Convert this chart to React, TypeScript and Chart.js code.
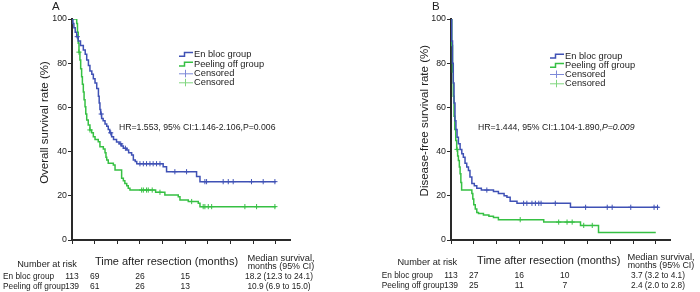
import React, { useEffect, useRef } from "react";
import { Chart, registerables } from "chart.js";

Chart.register(...registerables);

const FONT = '"Liberation Sans", Arial, Helvetica, sans-serif';
const BLUE = "#3f51b5";
const GREEN = "#36c043";
const BLUE_LIGHT = "#7d89d8";
const GREEN_LIGHT = "#80d67f";
const AXIS = "#2a2a2a";
const TEXT = "#222";

// ---------- data ----------
const xTickValues = [0, 12, 24, 36, 48, 60, 72, 84, 96, 108];
const yTickValues = [0, 20, 40, 60, 80, 100];
const riskTimes = [0, 12, 36, 60];
const groupNames = ["En bloc group", "Peeling off group"];

// Overall survival (panel A): [month, %]
const osEnBloc = [[0,100],[0.5,98],[1,96],[1.7,94],[2.5,92],[3.3,90],[4.5,88],[6,86],[7,84],[7.8,81.5],[8.7,79],[9.5,76.5],[10.5,75],[11.3,73],[12.2,71],[13.1,68.5],[14,65],[14.4,62],[14.8,59],[15.2,57],[15.7,55],[16.5,54],[17.5,52.5],[18.4,51.5],[19.2,50],[20,48.5],[21,46.7],[22,45.5],[23.6,44.3],[25,43.5],[26.3,42.5],[27.2,41.5],[29,40.7],[30,39.5],[31.6,38.5],[32.5,36.2],[33.5,35.5],[34.3,34.5],[48.3,33.2],[50.1,30.9],[66,28.7],[67.8,26.4],[108,26.4]];
const osPeeling = [[0,100],[2.5,98],[2.9,94],[3.3,89],[3.7,85],[4.2,81.4],[4.6,77.5],[5.1,73.9],[5.5,70.5],[6,67],[6.4,63.5],[6.9,60.3],[7.3,57],[7.8,54.3],[8.6,52],[9.5,49.8],[10.4,48.5],[11.3,46.7],[12.2,45.5],[13.9,44.5],[14.8,42.2],[16.6,41.2],[17.5,39.5],[18,37.5],[18.4,36.2],[19.2,34.7],[21.9,33.9],[22.8,31.7],[26.3,27.9],[27.2,26.8],[28,25.6],[29,24.5],[29.8,23.4],[30.7,22.6],[44.3,21.6],[49.2,20.4],[56.3,19.6],[57.2,18.1],[61.6,17.4],[66.9,16.6],[67.8,15.1],[108,15.1]];
const osEnBlocCensored = [2.8, 15.5, 20.5, 25.8, 28.3, 36, 37.8, 39.5, 41.3, 43, 44.8, 46.6, 54.5, 60.7, 70.4, 71.3, 80.1, 82.8, 85.4, 95.1, 101.3, 107.5];
const osPeelingCensored = [3.7, 9.5, 36.9, 37.8, 39.5, 40.4, 42.5, 46.6, 63.4, 69.5, 70.4, 72.2, 74, 91.6, 97.8, 107.5];
const osRiskEnBloc = [113, 69, 26, 15];
const osRiskPeeling = [139, 61, 26, 13];
const osMedians = ["18.2 (12.3 to 24.1)", "10.9 (6.9 to 15.0)"];

// Disease-free survival (panel B): [month, %]
const dfsEnBloc = [[0,100],[0.4,90],[0.8,80],[1.2,71],[1.6,62],[2.1,54],[2.6,50],[3.2,46.5],[3.9,43.5],[4.8,41],[5.7,39],[6.5,37.5],[7.4,34.7],[8.3,33],[9.2,31.5],[10,28.5],[11,25.6],[12.3,24.5],[13.6,23.4],[16,22.6],[22.4,21.9],[25,21],[28,20],[29.5,19.3],[31.2,17.5],[34.8,16.6],[63,14.8],[109.5,14.8]];
const dfsPeeling = [[0,100],[0.4,88],[0.8,76],[1.2,65],[1.6,56],[2,50],[2.5,45],[3,41],[3.5,38],[3.9,36],[4.4,33],[4.8,30],[5.2,26],[5.6,22.6],[11,21],[11.5,18.5],[12,16],[12.8,14],[13.6,12.5],[14.5,12],[17.1,11.3],[20,10.7],[22.4,10.2],[25,9.2],[48.9,8.1],[68.3,6.6],[77.8,3.4],[108,3.4]];
const dfsEnBlocCensored = [18.9, 38.3, 40, 42.7, 44.5, 46.3, 47.5, 55, 71, 82.4, 85, 94.8, 107.1, 108.9];
const dfsPeelingCensored = [3.2, 36.5, 56.8, 61.2, 63.9, 70, 74.5];
const dfsRiskEnBloc = [113, 27, 16, 10];
const dfsRiskPeeling = [139, 25, 11, 7];
const dfsMedians = ["3.7 (3.2 to 4.1)", "2.4 (2.0 to 2.8)"];

// ---------- helpers ----------
function survivalAt(curve: number[][], t: number): number {
  let v = curve[0][1];
  for (const [x, y] of curve) {
    if (x <= t) v = y;
    else break;
  }
  return v;
}

function drawText(ctx: CanvasRenderingContext2D, s: string, x: number, y: number, size: number, align: CanvasTextAlign = "left", opts: any = {}) {
  ctx.save();
  ctx.font = `${opts.italic ? "italic " : ""}${size}px ${FONT}`;
  ctx.fillStyle = opts.color || TEXT;
  ctx.textAlign = align;
  ctx.textBaseline = "middle";
  if (opts.rotate) {
    ctx.translate(x, y);
    ctx.rotate(-Math.PI / 2);
    ctx.fillText(s, 0, 0);
  } else {
    ctx.fillText(s, x, y);
  }
  ctx.restore();
}

const panels = [
  {
    offset: 0,
    letter: "A",
    letterX: 52,
    yTitle: "Overall survival rate (%)",
    yTitleX: 45,
    yTitleY: 122.5,
    plotLeft: 72,
    plotRight: 290,
    xMax: 115.5,
    curves: [osEnBloc, osPeeling],
    censored: [osEnBlocCensored, osPeelingCensored],
    risk: [osRiskEnBloc, osRiskPeeling],
    medians: osMedians,
    legendX: 179,
    legendYs: [54.3, 64, 73.3, 82.3],
    hrX: 119,
    hrY: 128,
    hrText: "HR=1.553, 95% CI:1.146-2.106,P=0.006",
    hrItalic: "",
    xTitleX: 166.5,
    xTitleY: 261.5,
    riskHeadX: 47,
    riskHeadY: 264,
    rowLabelX: 3,
    rowYs: [276.7, 286.7],
    medianHeadX: 281,
    medianHeadYs: [258, 267],
    medianX: 279,
  },
  {
    offset: 350,
    letter: "B",
    letterX: 82,
    yTitle: "Disease-free survival rate (%)",
    yTitleX: 75,
    yTitleY: 120.7,
    plotLeft: 101,
    plotRight: 320,
    xMax: 115.5,
    curves: [dfsEnBloc, dfsPeeling],
    censored: [dfsEnBlocCensored, dfsPeelingCensored],
    risk: [dfsRiskEnBloc, dfsRiskPeeling],
    medians: dfsMedians,
    legendX: 200,
    legendYs: [56, 65.3, 74, 83.3],
    hrX: 128,
    hrY: 128,
    hrText: "HR=1.444, 95% CI:1.104-1.890,",
    hrItalic: "P=0.009",
    xTitleX: 198.7,
    xTitleY: 261,
    riskHeadX: 77.3,
    riskHeadY: 262.7,
    rowLabelX: 31.7,
    rowYs: [275.7, 285.7],
    medianHeadX: 311,
    medianHeadYs: [257.7, 266],
    medianX: 308,
  },
];

function KMChart({ cfg }: { cfg: any }) {
  const ref = useRef<HTMLCanvasElement>(null);
  useEffect(() => {
    const colors = [BLUE, GREEN];
    const lightColors = [BLUE_LIGHT, GREEN_LIGHT];
    const datasets: any[] = [];
    cfg.curves.forEach((c: number[][], i: number) => {
      datasets.push({
        label: groupNames[i],
        data: c.map(([x, y]) => ({ x, y })),
        showLine: true,
        stepped: true,
        borderColor: colors[i],
        borderWidth: 1.5,
        pointRadius: 0,
        fill: false,
      });
    });
    cfg.censored.forEach((ts: number[], i: number) => {
      datasets.push({
        label: "Censored",
        data: ts.map((t) => ({ x: t, y: survivalAt(cfg.curves[i], t) })),
        showLine: false,
        pointStyle: "cross",
        pointRadius: 2.6,
        pointBorderWidth: 1,
        borderColor: colors[i],
        backgroundColor: colors[i],
      });
    });

    const overlay = {
      id: "overlay",
      afterDraw(chart: any) {
        const ctx: CanvasRenderingContext2D = chart.ctx;
        const xs = chart.scales.x;
        // panel letter
        drawText(ctx, cfg.letter, cfg.letterX, 6.5, 11.5, "left");
        // y title
        drawText(ctx, cfg.yTitle, cfg.yTitleX, cfg.yTitleY, 11.5, "center", { rotate: true });
        // x title
        drawText(ctx, "Time after resection (months)", cfg.xTitleX, cfg.xTitleY, 11, "center");
        // legend
        const lx = cfg.legendX;
        cfg.legendYs.forEach((y: number, i: number) => {
          ctx.save();
          if (i < 2) {
            ctx.strokeStyle = colors[i];
            ctx.lineWidth = 1.5;
            ctx.beginPath();
            ctx.moveTo(lx, y + 2);
            ctx.lineTo(lx + 5.5, y + 2);
            ctx.lineTo(lx + 5.5, y - 1.8);
            ctx.lineTo(lx + 14, y - 1.8);
            ctx.stroke();
          } else {
            ctx.strokeStyle = lightColors[i - 2];
            ctx.lineWidth = 1;
            ctx.beginPath();
            ctx.moveTo(lx, y + 0.5);
            ctx.lineTo(lx + 14, y + 0.5);
            ctx.moveTo(lx + 6.5, y - 3.5);
            ctx.lineTo(lx + 6.5, y + 4);
            ctx.stroke();
          }
          ctx.restore();
          const label = i < 2 ? groupNames[i] : "Censored";
          drawText(ctx, label, lx + 15, y, 9.3, "left");
        });
        // HR text
        drawText(ctx, cfg.hrText, cfg.hrX, cfg.hrY, 8.7, "left");
        if (cfg.hrItalic) {
          ctx.save();
          ctx.font = `8.7px ${FONT}`;
          const w = ctx.measureText(cfg.hrText).width;
          ctx.restore();
          drawText(ctx, cfg.hrItalic, cfg.hrX + w, cfg.hrY, 8.7, "left", { italic: true });
        }
        // risk table
        drawText(ctx, "Number at risk", cfg.riskHeadX, cfg.riskHeadY, 9.2, "center");
        drawText(ctx, "Median survival,", cfg.medianHeadX, cfg.medianHeadYs[0], 9.3, "center");
        drawText(ctx, "months (95% CI)", cfg.medianHeadX, cfg.medianHeadYs[1], 8.9, "center");
        cfg.rowYs.forEach((y: number, r: number) => {
          drawText(ctx, groupNames[r], cfg.rowLabelX, y, 8.3, "left");
          cfg.risk[r].forEach((n: number, k: number) => {
            drawText(ctx, String(n), xs.getPixelForValue(riskTimes[k]), y, 8.5, "center");
          });
          drawText(ctx, cfg.medians[r], cfg.medianX, y, 8.3, "center");
        });
      },
    };

    const chart = new Chart(ref.current as HTMLCanvasElement, {
      type: "scatter",
      data: { datasets },
      plugins: [overlay],
      options: {
        animation: false,
        responsive: false,
        maintainAspectRatio: false,
        layout: { padding: { left: 0, top: 19, right: 350 - cfg.plotRight, bottom: 52 } },
        plugins: { legend: { display: false }, tooltip: { enabled: false }, title: { display: false } },
        scales: {
          x: {
            type: "linear",
            min: 0,
            max: cfg.xMax,
            afterBuildTicks: (s: any) => {
              s.ticks = xTickValues.map((v) => ({ value: v }));
            },
            afterFit: (s: any) => {
              s.height = 0;
            },
            grid: { drawOnChartArea: false, drawTicks: true, tickLength: 4, color: AXIS, lineWidth: 1 },
            border: { display: true, color: AXIS, width: 2 },
            ticks: { font: { family: FONT, size: 8.8 }, color: TEXT, padding: 1, maxRotation: 0, autoSkip: false },
          },
          y: {
            type: "linear",
            min: 0,
            max: 100,
            afterBuildTicks: (s: any) => {
              s.ticks = yTickValues.map((v) => ({ value: v }));
            },
            afterFit: (s: any) => {
              s.width = cfg.plotLeft;
            },
            grid: { drawOnChartArea: false, drawTicks: true, tickLength: 4, color: AXIS, lineWidth: 1 },
            border: { display: true, color: AXIS, width: 2 },
            ticks: { font: { family: FONT, size: 8.8 }, color: TEXT, padding: 1 },
          },
        },
      } as any,
    });
    return () => chart.destroy();
  }, []);
  return (
    <canvas
      ref={ref}
      width={350}
      height={292}
      style={{ position: "absolute", left: cfg.offset, top: 0, width: 350, height: 292 }}
    />
  );
}

export default function App() {
  return (
    <div style={{ position: "absolute", left: 0, top: 0, width: 700, height: 292, background: "#fff", overflow: "hidden" }}>
      {panels.map((p) => (
        <KMChart key={p.letter} cfg={p} />
      ))}
    </div>
  );
}
